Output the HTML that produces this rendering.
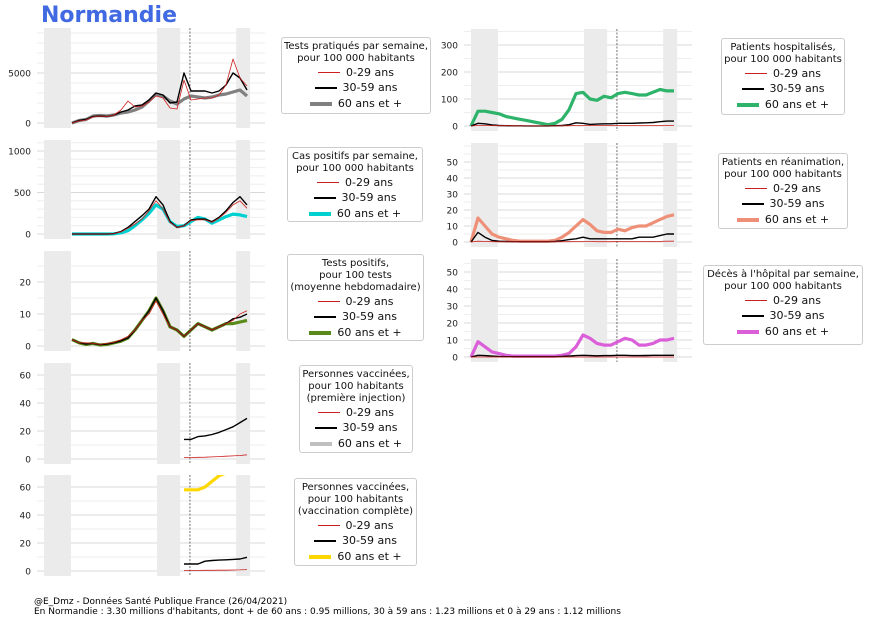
<!DOCTYPE html>
<html><head><meta charset="utf-8">
<style>
body{margin:0;background:#fff;width:870px;height:624px;overflow:hidden;font-family:"Liberation Sans","DejaVu Sans",sans-serif;}
#title{position:absolute;left:41px;top:3px;font-size:22px;font-weight:bold;color:#4169E1;font-family:"DejaVu Sans","Liberation Sans",sans-serif;}
.leg{position:absolute;border:1px solid #ccc;border-radius:3px;background:#fff;font-size:10px;text-align:center;padding:3px 0;box-sizing:border-box;font-family:"DejaVu Sans","Liberation Sans",sans-serif;color:#111;line-height:12px;white-space:nowrap;}
.leg .e{display:flex;align-items:center;justify-content:center;font-size:11px;height:15.5px;}
.leg .sw{display:inline-block;width:22px;height:0;margin-right:6px;}
#foot{position:absolute;left:34px;top:597px;font-size:9px;line-height:10px;color:#000;font-family:"DejaVu Sans","Liberation Sans",sans-serif;white-space:nowrap;}
</style></head><body>
<div id="title">Normandie</div>
<svg id="svg" width="870" height="624" style="position:absolute;left:0;top:0"></svg>
<div id="legs"></div>
<div id="foot">@E_Dmz - Données Santé Publique France (26/04/2021)<br>En Normandie : 3.30 millions d'habitants, dont + de 60 ans : 0.95 millions, 30 à 59 ans : 1.23 millions et 0 à 29 ans : 1.12 millions</div>
<script>
// week index of each sample (every 2 weeks)
const weeks=[0,2,4,6,8,10,12,14,16,18,20,22,24,26,28,30,32,34,36,38,40,42,44,46,48,50,52,54,56,58];
const N=null;
const testsYoung=[N,N,N,N,0,200,300,600,700,650,800,1300,2200,1600,1700,2100,2700,2500,1500,1400,4300,2300,2400,2500,2500,2800,3800,6400,4500,3700];
const testsMid=[N,N,N,N,0,250,350,650,700,650,800,1100,1300,1700,1800,2300,3000,2800,2000,2100,5000,3200,3200,3200,3000,3200,3800,5000,4500,3300];
const testsOld=[N,N,N,N,0,250,350,700,750,700,800,1000,1100,1300,1600,2200,2900,2700,2200,1900,2400,2700,2600,2500,2600,2800,2900,3100,3300,2700];
const casesYoung=[N,N,N,N,0,0,0,0,0,0,5,25,70,120,180,280,400,300,140,80,100,160,170,170,140,190,260,350,400,310];
const casesMid=[N,N,N,N,0,0,0,0,0,0,5,30,80,150,220,300,450,350,150,80,100,170,180,180,150,200,280,380,450,350];
const casesOld=[N,N,N,N,0,0,0,0,0,0,3,15,40,100,170,250,350,300,150,90,100,150,200,180,130,170,210,240,230,210];
const posYoung=[N,N,N,N,2,1,1,0.8,0.5,0.8,1.2,2,3,5,8,10,14,10,6,5,3,5,7,6,5,6,7,8,10,11];
const posMid=[N,N,N,N,2,1,0.6,0.8,0.4,0.6,1,1.6,2.5,5,8,11,15,11,6,5,3,5,7,6,5,6,7,8.5,9,10];
const posOld=[N,N,N,N,2,1,0.5,0.8,0.3,0.5,1,1.5,2.5,5,8,11,15,11,6,5,3,5,7,6,5,6,7,7,7.5,8];
const vac1Young=[N,N,N,N,N,N,N,N,N,N,N,N,N,N,N,N,N,N,N,N,1,1,1.2,1.3,1.5,1.7,2,2.2,2.5,3];
const vac1Mid=[N,N,N,N,N,N,N,N,N,N,N,N,N,N,N,N,N,N,N,N,14,14,16,16.5,17.5,19,21,23,26,29];
const vac1Old=[N,N,N,N,N,N,N,N,N,N,N,N,N,N,N,N,N,N,N,N,75,76,78,80,82,84,86,88,89,90];
const vac2Young=[N,N,N,N,N,N,N,N,N,N,N,N,N,N,N,N,N,N,N,N,0.4,0.4,0.4,0.5,0.5,0.6,0.6,0.7,0.8,1];
const vac2Mid=[N,N,N,N,N,N,N,N,N,N,N,N,N,N,N,N,N,N,N,N,5,5,5,7,7.5,7.8,8,8.3,8.6,9.8];
const vac2Old=[N,N,N,N,N,N,N,N,N,N,N,N,N,N,N,N,N,N,N,N,58,58,58,60,64,68,70,71,73,75];
const hospYoung=[0,2,2,1.5,1,1,0.8,0.6,0.5,0.5,0.5,0.5,0.5,0.7,1,2,2,1.5,1.5,1.5,1.5,1.5,1.5,1.5,1.5,1.5,1.5,2,2,2];
const hospMid=[0,10,8,4,2,1,0.8,0.6,0.5,0.5,0.5,0.5,1,2,5,12,10,6,7,8,8,10,10,10,11,12,13,16,18,18];
const hospOld=[0,55,55,50,45,35,30,25,20,15,10,5,10,25,60,120,125,100,95,110,105,120,125,120,115,115,125,135,130,130];
const reaYoung=[0,0.5,0.3,0.2,0.1,0.1,0.1,0.1,0.1,0.1,0.1,0.1,0.1,0.2,0.2,0.3,0.3,0.3,0.2,0.2,0.2,0.3,0.3,0.3,0.3,0.3,0.4,0.4,0.5,0.5];
const reaMid=[0,6,3,1,0.5,0.3,0.2,0.2,0.2,0.2,0.2,0.2,0.3,0.8,1.5,2,3,2,2,2,2,2,2,2,3,3,3,4,5,5];
const reaOld=[0,15,10,5,3,2,1,0.5,0.5,0.5,0.5,0.5,1,3,6,10,14,11,7,6,6,8,7,9,10,10,12,14,16,17];
const decYoung=[0,0,0,0,0,0,0,0,0,0,0,0,0,0,0,0,0,0,0,0,0,0,0,0,0,0,0,0,0,0];
const decMid=[0,1,0.8,0.5,0.3,0.2,0.2,0.2,0.2,0.2,0.2,0.2,0.2,0.3,0.5,0.8,1,0.8,0.7,0.8,0.8,1,1,0.8,0.8,0.9,1,1,1,1];
const decOld=[0,9,6,3,2,1,0.5,0.5,0.5,0.5,0.5,0.5,0.5,1,2,6,13,11,8,7,7,9,11,10,7,7,8,10,10,11];

const svg=document.getElementById('svg');
const NS='http://www.w3.org/2000/svg';
function mk(tag,attrs,parent){const e=document.createElementNS(NS,tag);for(const k in attrs)e.setAttribute(k,attrs[k]);(parent||svg).appendChild(e);return e;}
function panel(cfg){
  const g=mk('g',{});
  
  
  const x0=cfg.x0, xr=x0+228, xo=cfg.xo;
  const yS=v=>cfg.y0-(v-0)*(cfg.y0-cfg.y1)/cfg.v1;
  const xS=w=>xo+w*3.5;
  const top=cfg.top;
  for(let v=0;yS(v)>=top;v+=cfg.minor){mk('line',{x1:x0,x2:xr,y1:yS(v),y2:yS(v),stroke:'#eee','stroke-width':1},g);}
  for(const t of cfg.ticks){const y=yS(t);mk('line',{x1:x0,x2:xr,y1:y,y2:y,stroke:'#d8d8d8','stroke-width':1},g);
    const tx=mk('text',{x:x0-6,y:y+3.5,'text-anchor':'end','font-size':9,fill:'#222','font-family':'DejaVu Sans, Liberation Sans, sans-serif'},g);tx.textContent=t;
    }
  const bot=cfg.y0+5;
  for(const b of [[0,7.7],[32.3,38.9],[54.9,58.9]]){mk('rect',{x:xS(b[0]),y:top,width:(b[1]-b[0])*3.5,height:bot-top,fill:'#ebebeb'},g);}
  mk('line',{x1:xS(41.7),x2:xS(41.7),y1:top,y2:bot,stroke:'#333','stroke-width':0.7,'stroke-dasharray':'2,1.5'},g);
  const clipId='c'+cfg.name;
  const cp=mk('clipPath',{id:clipId},g);mk('rect',{x:x0,y:top,width:228,height:bot-top+5},cp);
  const series=[[cfg.old,cfg.oc,3.2,'series-60-plus'],[cfg.mid,'#000',1.4,'series-30-59'],[cfg.young,'#cc1f1f',0.8,'series-0-29']];
  for(const s of series){let d='';let pen=false;
    s[0].forEach((v,i)=>{if(v===null){pen=false;return;}d+=(pen?'L':'M')+xS(weeks[i]).toFixed(1)+','+yS(v).toFixed(1);pen=true;});
    const p=mk('path',{d:d,fill:'none',stroke:s[1],'stroke-width':s[2],'stroke-linejoin':'round','clip-path':'url(#'+clipId+')'},g);
    }
}
const L=44, R=471;
panel({name:'tests-panel',x0:37,xo:L,top:28,y0:123,y1:73,v1:5000,minor:1000,ticks:[0,5000],young:testsYoung,mid:testsMid,old:testsOld,oc:'#808080'});
panel({name:'cases-panel',x0:37,xo:L,top:140,y0:234,y1:151,v1:1000,minor:100,ticks:[0,500,1000],young:casesYoung,mid:casesMid,old:casesOld,oc:'#00d0d0'});
panel({name:'positivity-panel',x0:37,xo:L,top:251,y0:346,y1:314,v1:10,minor:5,ticks:[0,10,20],young:posYoung,mid:posMid,old:posOld,oc:'#5a8a1a'});
panel({name:'vaccine-first-panel',x0:37,xo:L,top:363,y0:459,y1:431,v1:20,minor:10,ticks:[0,20,40,60],young:vac1Young,mid:vac1Mid,old:vac1Old,oc:'#c0c0c0'});
panel({name:'vaccine-complete-panel',x0:37,xo:L,top:475,y0:571,y1:543,v1:20,minor:10,ticks:[0,20,40,60],young:vac2Young,mid:vac2Mid,old:vac2Old,oc:'#ffd700'});
panel({name:'hospital-panel',x0:464,xo:R,top:29,y0:126,y1:99,v1:100,minor:50,ticks:[0,100,200,300],young:hospYoung,mid:hospMid,old:hospOld,oc:'#2eb36a'});
panel({name:'icu-panel',x0:464,xo:R,top:143,y0:242,y1:226,v1:10,minor:5,ticks:[0,10,20,30,40,50],young:reaYoung,mid:reaMid,old:reaOld,oc:'#ee9077'});
panel({name:'deaths-panel',x0:464,xo:R,top:259,y0:357,y1:340,v1:10,minor:5,ticks:[0,10,20,30,40,50],young:decYoung,mid:decMid,old:decOld,oc:'#da5fd8'});

const legs=[
 ['tests-legend',281,37,150,77,['Tests pratiqués par semaine,','pour 100 000 habitants'],'#808080'],
 ['cases-legend',287,147,136,75,['Cas positifs par semaine,','pour 100 000 habitants'],'#00d0d0'],
 ['positivity-legend',287,254,137,87,['Tests positifs,','pour 100 tests','(moyenne hebdomadaire)'],'#5a8a1a'],
 ['vaccine-first-legend',299,365,114,88,['Personnes vaccinées,','pour 100 habitants','(première injection)'],'#c0c0c0'],
 ['vaccine-complete-legend',294,478,123,88,['Personnes vaccinées,','pour 100 habitants','(vaccination complète)'],'#ffd700'],
 ['hospital-legend',721,38,124,77,['Patients hospitalisés,','pour 100 000 habitants'],'#2eb36a'],
 ['icu-legend',718,153,130,76,['Patients en réanimation,','pour 100 000 habitants'],'#ee9077'],
 ['deaths-legend',703,265,160,80,["Décès à l'hôpital par semaine,",'pour 100 000 habitants'],'#da5fd8']];
const host=document.getElementById('legs');
for(const l of legs){const d=document.createElement('div');d.className='leg';
 
 
 d.style.left=l[1]+'px';d.style.top=l[2]+'px';d.style.width=l[3]+'px';d.style.height=l[4]+'px';
 let h='<div>'+l[5].join('<br>')+'</div>';
 h+='<div class="e"><span class="sw" style="border-top:1px solid #cc1f1f"></span>0-29 ans</div>';
 h+='<div class="e"><span class="sw" style="border-top:2px solid #000"></span>30-59 ans</div>';
 h+='<div class="e"><span class="sw" style="border-top:4px solid '+l[6]+'"></span>60 ans et +</div>';
 d.innerHTML=h;host.appendChild(d);}
</script>
</body></html>
